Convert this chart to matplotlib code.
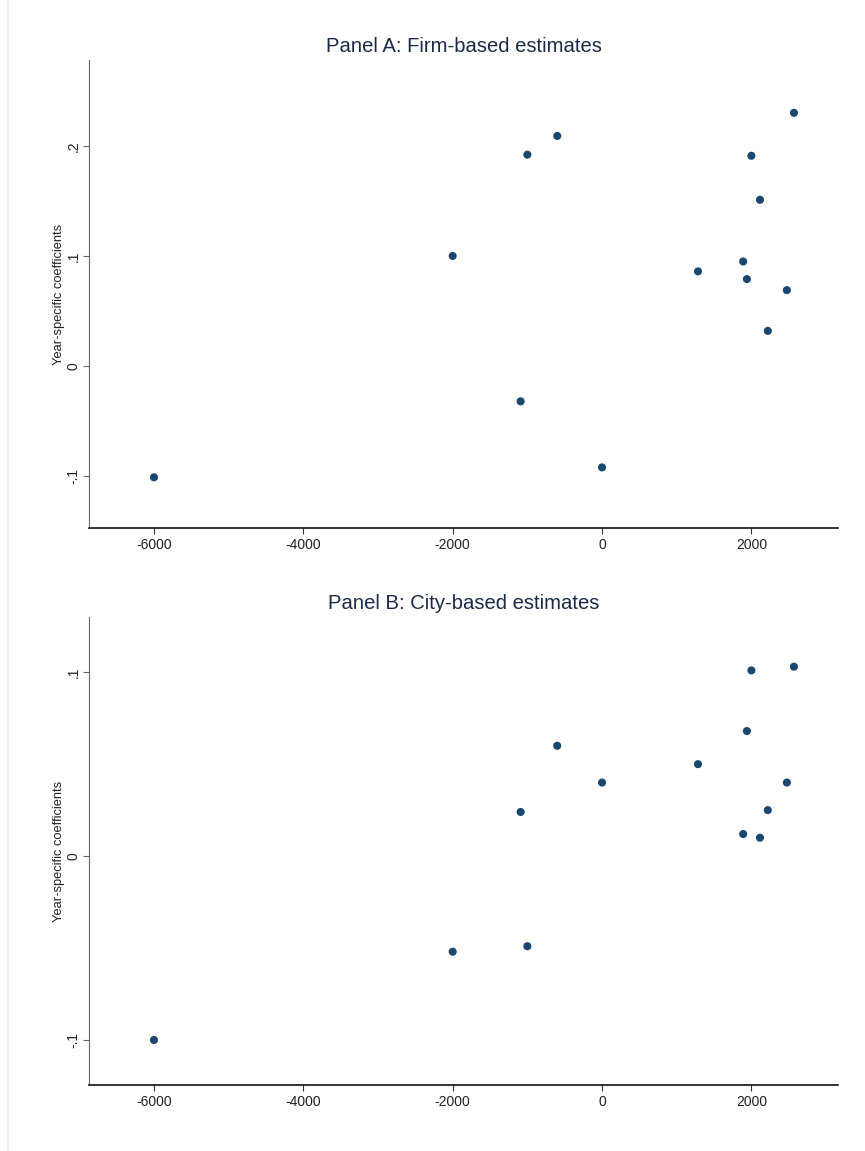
import matplotlib.pyplot as plt
from matplotlib.lines import Line2D

plt.rcParams['font.family'] = ['Liberation Sans', 'DejaVu Sans']

# year of each estimate (same years for both panels)
years = [-6000, -2000, -1000, -1090, -600, 0, 1285, 1890, 1940, 2000, 2115, 2220, 2475, 2570]

# Panel A: firm-based year coefficients
coef_firm = [-0.101, 0.100, 0.192, -0.032, 0.209, -0.092, 0.086, 0.095, 0.079, 0.191, 0.151, 0.032, 0.069, 0.230]

# Panel B: city-based year coefficients
coef_city = [-0.100, -0.052, -0.049, 0.024, 0.060, 0.040, 0.050, 0.012, 0.068, 0.101, 0.010, 0.025, 0.040, 0.103]

xticks = [-6000, -4000, -2000, 0, 2000]

navy = "#1a476f"
title_col = "#1a2a48"

fig = plt.figure(figsize=(8.65, 11.51), dpi=100)
fig.patch.set_facecolor("white")
fig.add_artist(Line2D([0.0098, 0.0098], [0, 1], color="#e6ecf2", lw=1.2))


def panel(rect, y, title, ylim, yticks, yticklabels):
    ax = fig.add_axes(rect)
    ax.scatter(years, y, s=34, color=navy, edgecolors="none", zorder=3)
    ax.set_xlim(-6870, 3160)
    ax.set_ylim(*ylim)
    ax.set_xticks(xticks)
    ax.set_xticklabels([str(t) for t in xticks])
    ax.set_yticks(yticks)
    ax.set_yticklabels(yticklabels, rotation=90, va="center")
    for s in ["top", "right"]:
        ax.spines[s].set_visible(False)
    ax.spines["left"].set_color("#666666")
    ax.spines["left"].set_linewidth(0.8)
    ax.spines["bottom"].set_color("#111111")
    ax.spines["bottom"].set_linewidth(1.2)
    ax.tick_params(axis="x", length=4.5, width=0.8, color="#333333", labelsize=10, pad=3,
                   labelcolor="#222222")
    ax.tick_params(axis="y", length=4.5, width=0.8, color="#666666", labelsize=10, pad=1.5,
                   labelcolor="#222222")
    ax.set_ylabel("Year-specific coefficients", fontsize=9.3, labelpad=1.3, color="#222222")
    ax.set_title(title, fontsize=14.6, color=title_col, pad=5.5)
    return ax


panel([0.1029, 0.5413, 0.8659, 0.4066], coef_firm, "Panel A: Firm-based estimates",
      (-0.147, 0.278), [-0.1, 0, 0.1, 0.2], ["-.1", "0", ".1", ".2"])
panel([0.1029, 0.0573, 0.8659, 0.4066], coef_city, "Panel B: City-based estimates",
      (-0.1245, 0.130), [-0.1, 0, 0.1], ["-.1", "0", ".1"])

fig.savefig("out.png", dpi=100)
